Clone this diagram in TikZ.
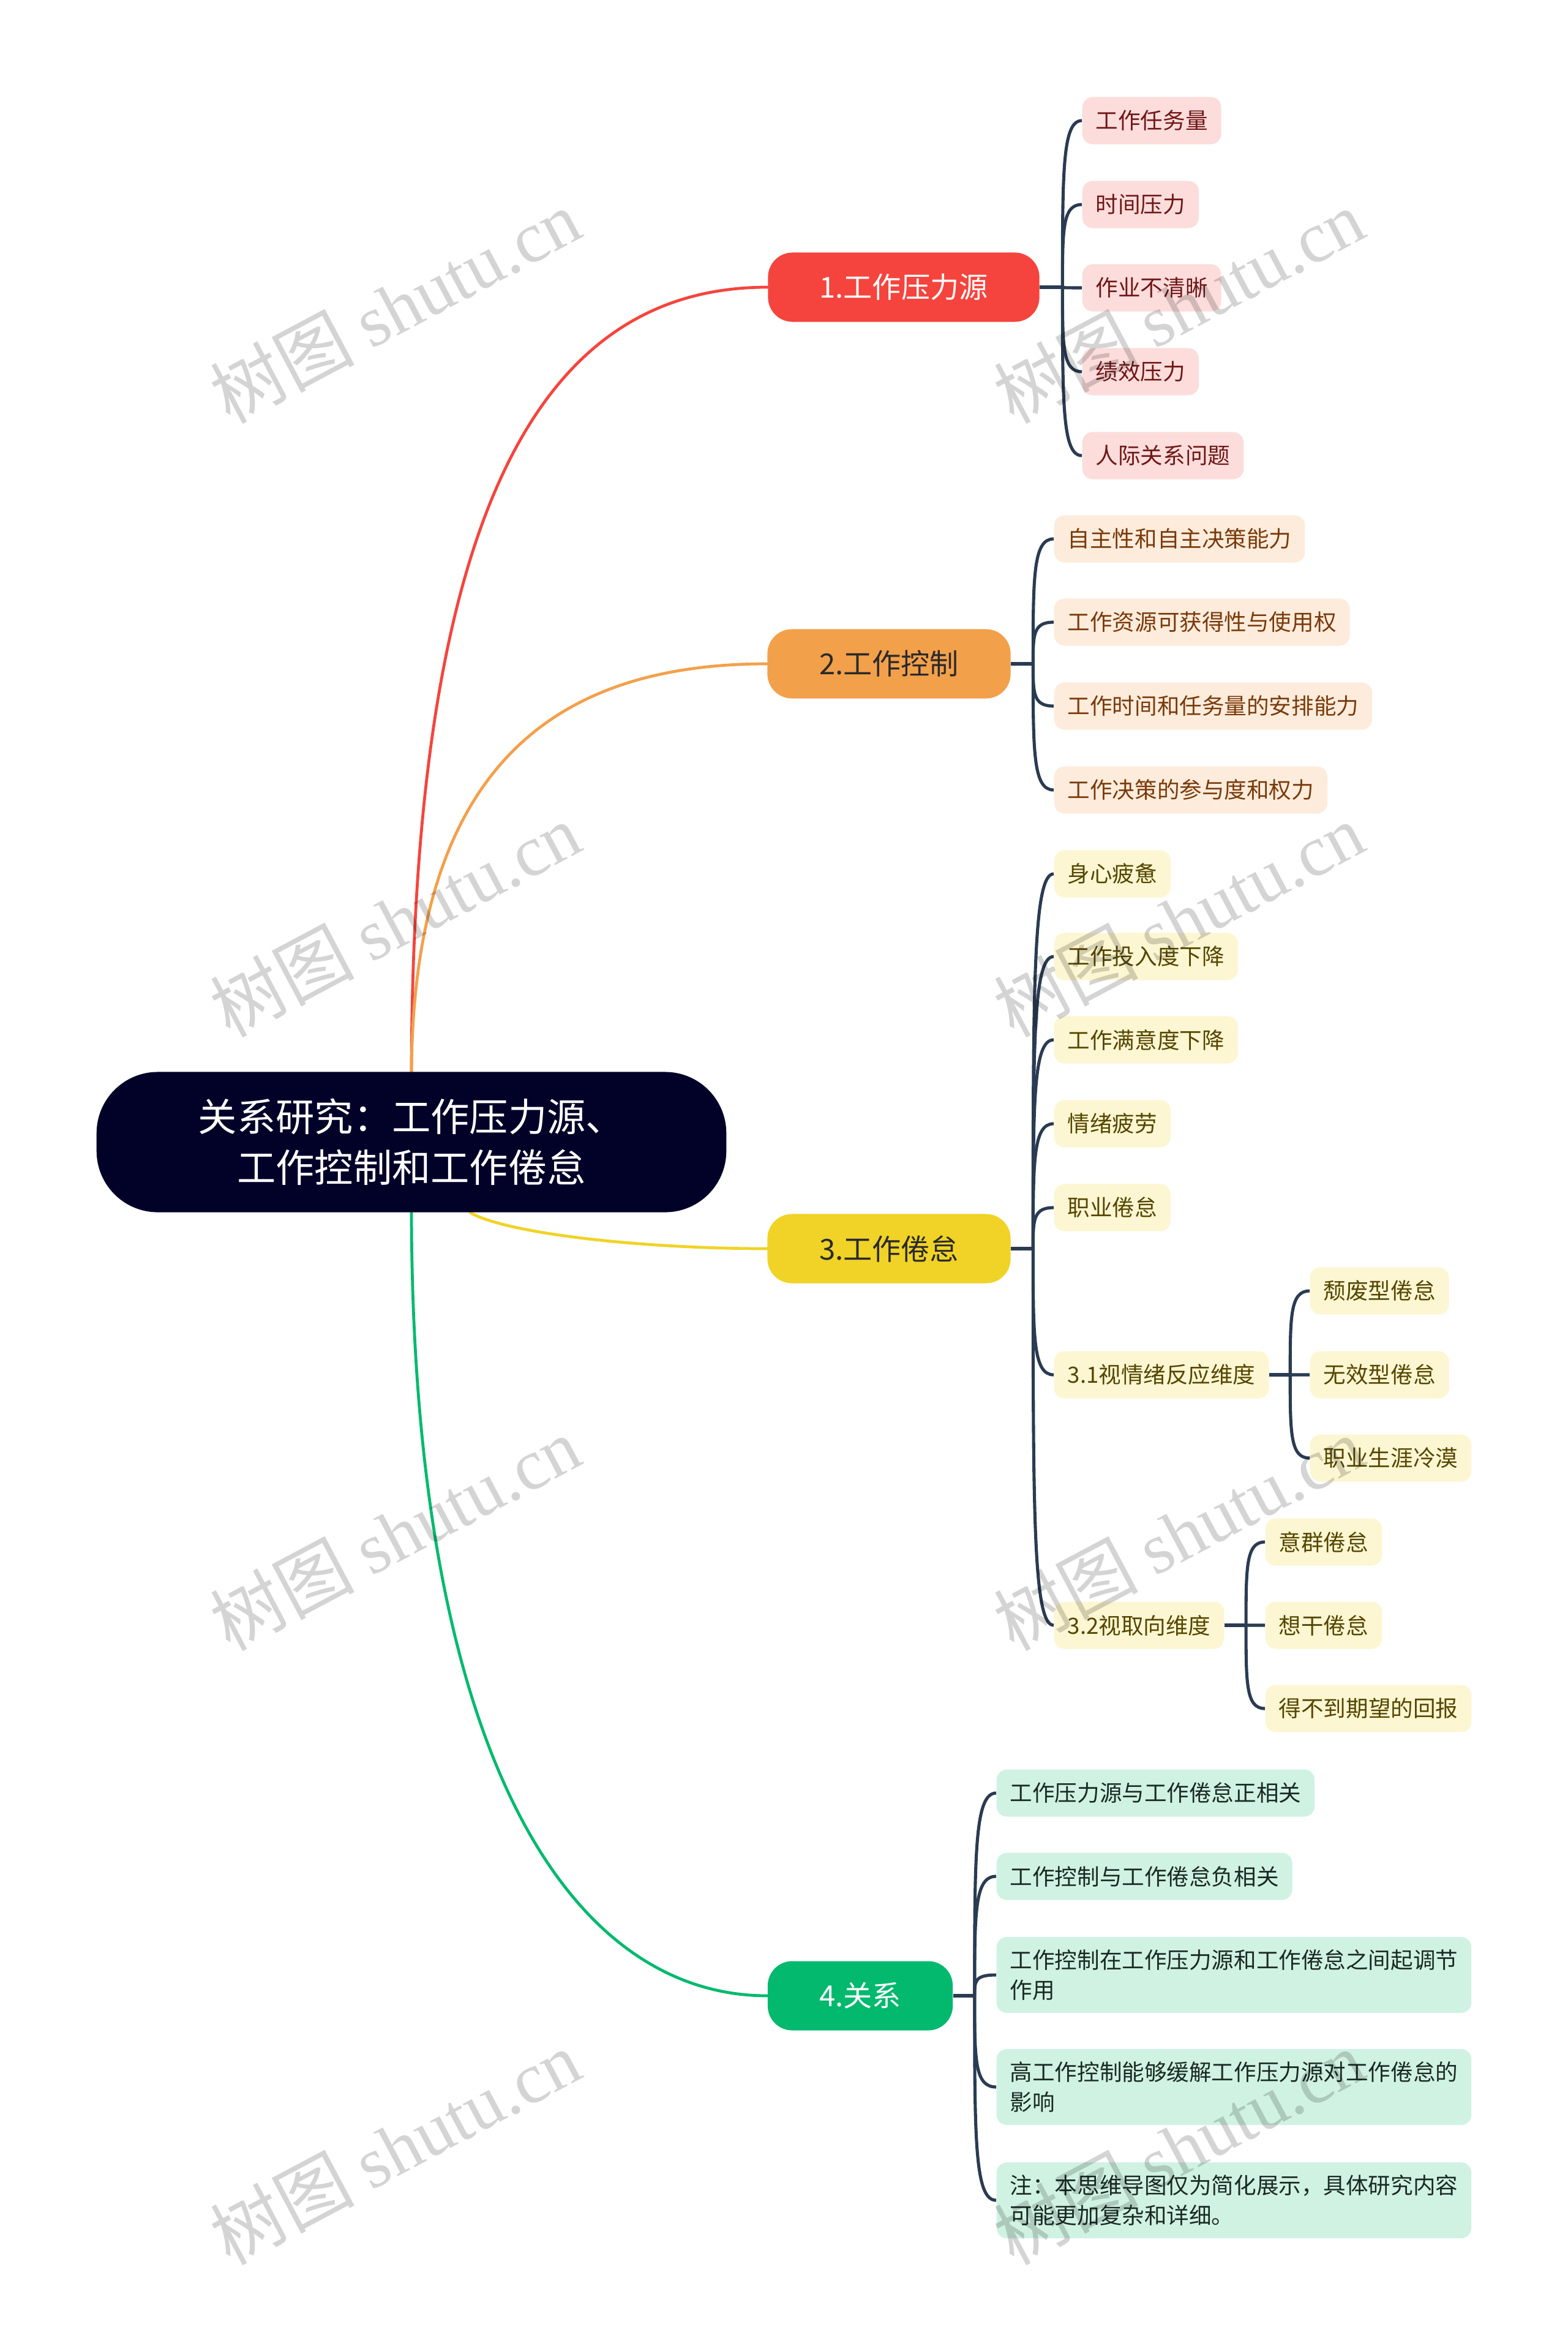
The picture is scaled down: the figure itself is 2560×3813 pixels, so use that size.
\documentclass[tikz,border=0pt]{standalone}
\usepackage{fontspec}
\setmainfont{Noto Sans CJK SC}
\newfontfamily\wmlatin{Liberation Serif}
\usetikzlibrary{calc}
\pgfdeclarelayer{paper}
\pgfdeclarelayer{bg}
\pgfdeclarelayer{fg}
\pgfsetlayers{paper,bg,main,fg}
\definecolor{rootc}{HTML}{020229}
\definecolor{redc}{HTML}{F5443D}
\definecolor{orangec}{HTML}{F3A04B}
\definecolor{yellowc}{HTML}{F0D326}
\definecolor{greenc}{HTML}{02B96E}
\definecolor{darktext}{HTML}{2A2A2A}
\definecolor{navy}{HTML}{2A3B52}
\definecolor{pinkf}{HTML}{FCDDDB}
\definecolor{pinkt}{HTML}{701717}
\definecolor{peachf}{HTML}{FDECDC}
\definecolor{peacht}{HTML}{7A3A0A}
\definecolor{lyelf}{HTML}{FDF6D2}
\definecolor{lyelt}{HTML}{554600}
\definecolor{mintf}{HTML}{D0F2E2}
\definecolor{mintt}{HTML}{1A2A22}
\newcommand\leafsize{\fontsize{10.4pt}{13.9pt}\selectfont}
\newcommand\mainsize{\fontsize{13.4pt}{16pt}\selectfont}
\newcommand\rootsize{\fontsize{18pt}{23.6pt}\selectfont}
\newcommand\wmsize{\fontsize{33.5pt}{40pt}\selectfont}
\tikzset{
  rootbox/.style={fill=rootc, text=white, rounded corners=1cm, minimum width=10.28cm,
    minimum height=2.29cm, align=center, font=\rootsize, inner sep=0pt},
  mainbox/.style={rounded corners=0.4cm, minimum height=1.13cm, inner sep=0pt, font=\mainsize},
  leaf/.style={anchor=west, rounded corners=0.17cm, inner xsep=0.22cm, inner ysep=0pt,
    minimum height=0.77cm, font=\leafsize, align=left},
  twoline/.style={minimum height=1.24cm},
  lpink/.style={leaf, fill=pinkf, text=pinkt},
  lpeach/.style={leaf, fill=peachf, text=peacht},
  lyel/.style={leaf, fill=lyelf, text=lyelt},
  lmint/.style={leaf, fill=mintf, text=mintt},
  branchline/.style={line width=1.35pt, line cap=round},
  conn/.style={draw=navy, line width=1.45pt},
  twig/.style={to path={.. controls ($(\tikztostart)!0.7!(\tikztostart |- \tikztotarget)$) and (\tikztostart |- \tikztotarget) .. (\tikztotarget)}},
  wm/.style={rotate=28, text=black, text opacity=0.17, font=\wmsize, inner sep=0pt}
}
\begin{document}
\begin{tikzpicture}[x=0.01cm, y=-0.01cm]
\begin{pgfonlayer}{paper}
\fill[white] (0,0) rectangle (2560,3813);
\end{pgfonlayer}
\useasboundingbox (0,0) rectangle (2560,3813);

% root and main branches
\node[rootbox] (root) at (672,1865) {关系研究：工作压力源、\\工作控制和工作倦怠};
\node[mainbox, fill=redc, text=white, minimum width=4.43cm] (n1) at (1476,469) {1.工作压力源};
\node[mainbox, fill=orangec, text=darktext, minimum width=3.97cm] (n2) at (1452,1084) {2.工作控制};
\node[mainbox, fill=yellowc, text=darktext, minimum width=3.97cm] (n3) at (1452,2039) {3.工作倦怠};
\node[mainbox, fill=greenc, text=white, minimum width=3.02cm] (n4) at (1405,3259) {4.关系};

% branch 1 leaves
\node[lpink] (a1) at (1767,197) {工作任务量};
\node[lpink] (a2) at (1767,334) {时间压力};
\node[lpink] (a3) at (1767,470) {作业不清晰};
\node[lpink] (a4) at (1767,607) {绩效压力};
\node[lpink] (a5) at (1767,744) {人际关系问题};

% branch 2 leaves
\node[lpeach] (b1) at (1721,880) {自主性和自主决策能力};
\node[lpeach] (b2) at (1721,1016) {工作资源可获得性与使用权};
\node[lpeach] (b3) at (1721,1153) {工作时间和任务量的安排能力};
\node[lpeach] (b4) at (1721,1290) {工作决策的参与度和权力};

% branch 3 leaves
\node[lyel] (c1) at (1721,1427) {身心疲惫};
\node[lyel] (c2) at (1721,1562) {工作投入度下降};
\node[lyel] (c3) at (1721,1698) {工作满意度下降};
\node[lyel] (c4) at (1721,1835) {情绪疲劳};
\node[lyel] (c5) at (1721,1972) {职业倦怠};
\node[lyel] (c6) at (1721,2245) {3.1视情绪反应维度};
\node[lyel] (c7) at (1721,2654) {3.2视取向维度};
\node[lyel] (d1) at (2139,2108) {颓废型倦怠};
\node[lyel] (d2) at (2139,2245) {无效型倦怠};
\node[lyel] (d3) at (2139,2381) {职业生涯冷漠};
\node[lyel] (e1) at (2066,2518) {意群倦怠};
\node[lyel] (e2) at (2066,2654) {想干倦怠};
\node[lyel] (e3) at (2066,2790) {得不到期望的回报};

% branch 4 leaves
\node[lmint] (f1) at (1627,2928) {工作压力源与工作倦怠正相关};
\node[lmint] (f2) at (1627,3064) {工作控制与工作倦怠负相关};
\node[lmint, twoline] (f3) at (1627,3225) {工作控制在工作压力源和工作倦怠之间起调节\\作用};
\node[lmint, twoline] (f4) at (1627,3408) {高工作控制能够缓解工作压力源对工作倦怠的\\影响};
\node[lmint, twoline] (f5) at (1627,3593) {注：本思维导图仅为简化展示，具体研究内容\\可能更加复杂和详细。};

% junctions
\coordinate (j1) at ($(n1.east)+(37,0)$);
\coordinate (j2) at ($(n2.east)+(36,0)$);
\coordinate (j3) at ($(n3.east)+(36,0)$);
\coordinate (j4) at ($(n4.east)+(35,0)$);
\coordinate (j6) at ($(c6.east)+(34,0)$);
\coordinate (j7) at ($(c7.east)+(35,0)$);
\coordinate (ys) at ($(root.south)+(96,0)$);

\begin{pgfonlayer}{bg}
  \draw[branchline, draw=redc] (root.north) .. controls (674,789) and (906,469) .. (n1.west);
  \draw[branchline, draw=orangec] (root.north) .. controls (676,1250) and (908,1084) .. (n2.west);
  \draw[branchline, draw=yellowc] (ys) .. controls (830,2015) and (1050,2039) .. (n3.west);
  \draw[branchline, draw=greenc] (root.south) .. controls (674,2876) and (935,3259) .. (n4.west);

  \draw[conn] (n1.east) -- (j1);
  \foreach \c in {a1,a2,a3,a4,a5} \draw[conn] (j1) to[twig] (\c.west);
  \draw[conn] (n2.east) -- (j2);
  \foreach \c in {b1,b2,b3,b4} \draw[conn] (j2) to[twig] (\c.west);
  \draw[conn] (n3.east) -- (j3);
  \foreach \c in {c1,c2,c3,c4,c5,c6,c7} \draw[conn] (j3) to[twig] (\c.west);
  \draw[conn] (c6.east) -- (j6);
  \foreach \c in {d1,d2,d3} \draw[conn] (j6) to[twig] (\c.west);
  \draw[conn] (c7.east) -- (j7);
  \foreach \c in {e1,e2,e3} \draw[conn] (j7) to[twig] (\c.west);
  \draw[conn] (n4.east) -- (j4);
  \foreach \c in {f1,f2,f3,f4,f5} \draw[conn] (j4) to[twig] (\c.west);
\end{pgfonlayer}

\begin{pgfonlayer}{fg}
  \node[wm] (w1) at (645,500) {树图 {\wmlatin shutu.cn}};
  \node[wm] (w2) at (1925,500) {树图 {\wmlatin shutu.cn}};
  \node[wm] (w3) at (645,1502) {树图 {\wmlatin shutu.cn}};
  \node[wm] (w4) at (1925,1502) {树图 {\wmlatin shutu.cn}};
  \node[wm] (w5) at (645,2504) {树图 {\wmlatin shutu.cn}};
  \node[wm] (w6) at (1925,2504) {树图 {\wmlatin shutu.cn}};
  \node[wm] (w7) at (645,3506) {树图 {\wmlatin shutu.cn}};
  \node[wm] (w8) at (1925,3506) {树图 {\wmlatin shutu.cn}};
\end{pgfonlayer}
\end{tikzpicture}
\end{document}
